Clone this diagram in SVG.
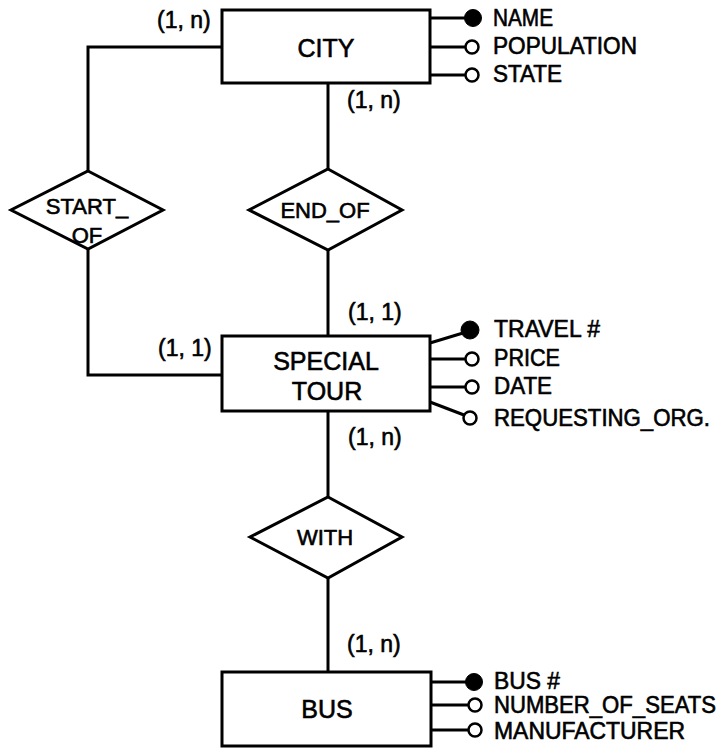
<svg xmlns="http://www.w3.org/2000/svg" width="724" height="748" viewBox="0 0 724 748">
<style>
.box{fill:#fff;stroke:#000;stroke-width:3}
.rel{fill:#fff;stroke:#000;stroke-width:3;stroke-linejoin:miter}
.ln{fill:none;stroke:#000;stroke-width:3}
.key{fill:#000;stroke:#000;stroke-width:1}
.opt{fill:#fff;stroke:#000;stroke-width:2.5}
text{font-family:"Liberation Sans",Arial,Helvetica,sans-serif;fill:#000;stroke:#000;stroke-width:0.6}
.ent{font-size:25px;text-anchor:middle}
.rt{font-size:22px;text-anchor:middle}
.at{font-size:23px}
.card{font-size:23px}
</style>
<rect width="724" height="748" fill="#fff"/>
<g id="connectors">
<polyline class="ln" points="222,47 88,47 88,171"/>
<polyline class="ln" points="88,249 88,375 222,375"/>
<line class="ln" x1="328" y1="83" x2="328" y2="169"/>
<line class="ln" x1="328" y1="250" x2="328" y2="336"/>
<line class="ln" x1="328" y1="411" x2="328" y2="497"/>
<line class="ln" x1="328" y1="578" x2="328" y2="672"/>
<line class="ln" x1="430" y1="18" x2="466" y2="18"/>
<line class="ln" x1="430" y1="47" x2="466" y2="47"/>
<line class="ln" x1="430" y1="75" x2="466" y2="75"/>
<line class="ln" x1="430" y1="343" x2="463" y2="333"/>
<line class="ln" x1="430" y1="359" x2="466" y2="359"/>
<line class="ln" x1="430" y1="387" x2="466" y2="387"/>
<line class="ln" x1="430" y1="402" x2="464" y2="415"/>
<line class="ln" x1="431" y1="682" x2="467" y2="682"/>
<line class="ln" x1="431" y1="705" x2="468" y2="705"/>
<line class="ln" x1="431" y1="730" x2="468" y2="730"/>
<text class="card" x="157" y="28">(1, n)</text>
<text class="card" x="347" y="108">(1, n)</text>
<text class="card" x="348" y="320">(1, 1)</text>
<text class="card" x="158" y="356">(1, 1)</text>
<text class="card" x="348" y="445">(1, n)</text>
<text class="card" x="347" y="652">(1, n)</text>
</g>
<g id="city">
<rect class="box" x="222" y="10" width="208" height="73"/>
<text class="ent" x="326" y="57">CITY</text>
</g>
<g id="start_of">
<polygon class="rel" points="88,171 163,210 88,249 11,210"/>
<text class="rt" x="87" y="214">START_</text>
<text class="rt" x="87" y="243">OF</text>
</g>
<g id="end_of">
<polygon class="rel" points="328,169 402,210 328,250 249,210"/>
<text class="rt" x="325" y="218">END_OF</text>
</g>
<g id="special_tour">
<rect class="box" x="222" y="336" width="208" height="75"/>
<text class="ent" x="326" y="370">SPECIAL</text>
<text class="ent" x="327" y="400">TOUR</text>
</g>
<g id="with">
<polygon class="rel" points="328,497 402,537 328,578 250,537"/>
<text class="rt" x="325" y="545">WITH</text>
</g>
<g id="bus">
<rect class="box" x="222" y="672" width="209" height="74"/>
<text class="ent" x="327" y="718">BUS</text>
</g>
<g id="attr_name"><circle class="key" cx="473" cy="18" r="8.5"/><text class="at" x="493" y="26" textLength="60" lengthAdjust="spacingAndGlyphs">NAME</text></g>
<g id="attr_population"><circle class="opt" cx="472" cy="47" r="6.5"/><text class="at" x="493" y="54" textLength="144" lengthAdjust="spacingAndGlyphs">POPULATION</text></g>
<g id="attr_state"><circle class="opt" cx="472" cy="75" r="6.5"/><text class="at" x="493" y="82" textLength="69" lengthAdjust="spacingAndGlyphs">STATE</text></g>
<g id="attr_travel"><circle class="key" cx="470" cy="330" r="9"/><text class="at" x="494" y="337" textLength="106" lengthAdjust="spacingAndGlyphs">TRAVEL #</text></g>
<g id="attr_price"><circle class="opt" cx="472" cy="359" r="6.5"/><text class="at" x="494" y="366" textLength="66" lengthAdjust="spacingAndGlyphs">PRICE</text></g>
<g id="attr_date"><circle class="opt" cx="472" cy="387" r="6.5"/><text class="at" x="494" y="394" textLength="58" lengthAdjust="spacingAndGlyphs">DATE</text></g>
<g id="attr_requesting_org"><circle class="opt" cx="470" cy="418" r="6.5"/><text class="at" x="494" y="426" textLength="216" lengthAdjust="spacingAndGlyphs">REQUESTING_ORG.</text></g>
<g id="attr_bus_no"><circle class="key" cx="474" cy="682" r="8.5"/><text class="at" x="494" y="689" textLength="66" lengthAdjust="spacingAndGlyphs">BUS #</text></g>
<g id="attr_seats"><circle class="opt" cx="475" cy="705" r="6.5"/><text class="at" x="494" y="713" textLength="222" lengthAdjust="spacingAndGlyphs">NUMBER_OF_SEATS</text></g>
<g id="attr_manufacturer"><circle class="opt" cx="475" cy="730" r="6.5"/><text class="at" x="494" y="739" textLength="191" lengthAdjust="spacingAndGlyphs">MANUFACTURER</text></g>
</svg>
